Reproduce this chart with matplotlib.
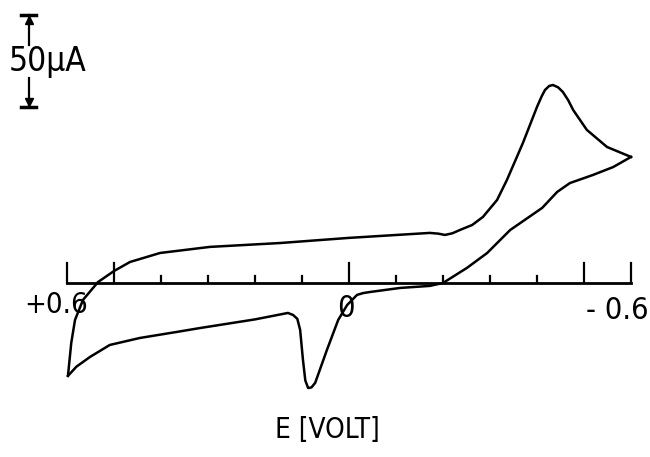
import matplotlib.pyplot as plt

# cyclic voltammogram, potential in V, current in uA
# sweep from +0.6 V towards -0.6 V
fwd_E = [0.598, 0.591, 0.583, 0.566, 0.534, 0.500, 0.466, 0.402, 0.296, 0.147,
         0.000, -0.172, -0.190, -0.204, -0.220, -0.236, -0.262, -0.285, -0.315,
         -0.336, -0.370, -0.400, -0.410, -0.417, -0.426, -0.434, -0.445, -0.455,
         -0.466, -0.477, -0.506, -0.549, -0.600]
fwd_I = [-50.5, -32.6, -20.1, -9.2, 0.5, 6.5, 11.4, 16.3, 19.6, 21.7,
         24.5, 27.2, 26.8, 26.1, 27.0, 28.8, 31.5, 35.9, 45.1,
         56.0, 76.1, 95.7, 101.5, 104.9, 107.1, 107.6, 106.3, 103.8,
         99.5, 94.0, 83.2, 73.9, 68.5]

# return sweep back to +0.6 V
rev_E = [-0.600, -0.562, -0.519, -0.470, -0.443, -0.411, -0.343, -0.294, -0.251,
         -0.200, -0.172, -0.109, -0.045, -0.030, -0.017, 0.004, 0.023, 0.047,
         0.072, 0.080, 0.087, 0.093, 0.098, 0.104, 0.110, 0.119, 0.130, 0.200,
         0.317, 0.366, 0.445, 0.509, 0.551, 0.580, 0.598]
rev_I = [68.5, 63.0, 58.7, 54.3, 49.5, 40.8, 28.8, 16.3, 8.2,
         0.0, -1.6, -2.7, -4.9, -5.5, -6.5, -12.0, -20.1, -36.4,
         -54.3, -56.8, -57.1, -53.0, -41.8, -25.5, -19.5, -17.4, -16.3, -19.8,
         -24.5, -26.6, -29.9, -33.7, -40.2, -45.5, -50.5]

tick_E = [0.6, 0.5, 0.4, 0.3, 0.2, 0.1, 0.0, -0.1, -0.2, -0.3, -0.4, -0.5, -0.6]
major_E = [0.6, 0.5, 0.0, -0.5, -0.6]
scale_uA = 50

plt.rcParams['font.family'] = ['DejaVu Sans']
plt.rcParams['font.stretch'] = 'condensed'

fig = plt.figure(figsize=(6.5, 4.57), dpi=100)
ax = fig.add_axes([0, 0, 1, 1])
ax.set_xlim(0.7426, -0.6404)
ax.set_ylim(-94.6, 153.8)
ax.axis('off')

lw = 1.8
ax.plot(fwd_E, fwd_I, color='black', lw=lw, solid_joinstyle='round')
ax.plot(rev_E, rev_I, color='black', lw=lw, solid_joinstyle='round')

# potential axis with ticks
ax.plot([tick_E[0], tick_E[-1]], [0, 0], color='black', lw=2.0)
for e in tick_E:
    h = 10.9 if e in major_E else 3.8
    ax.plot([e, e], [0, h], color='black', lw=1.6)

ax.text(0.623, -12, '+0.6', fontsize=21, ha='center', va='center')
ax.text(0.006, -14, '0', fontsize=22, ha='center', va='center')
ax.text(-0.57, -15, '- 0.6', fontsize=22, ha='center', va='center')
ax.text(0.045, -80, 'E [VOLT]', fontsize=20, ha='center', va='center')

# current scale bar
sx = 0.681
y0 = 95.7
y1 = y0 + scale_uA
ax.plot([sx, sx], [y0, 111.4], color='black', lw=1.6)
ax.plot([sx, sx], [129.3, y1], color='black', lw=1.6)
for y in (y0, y1):
    ax.plot([0.697, 0.665], [y, y], color='black', lw=2.5)
ax.plot(sx, y1 - 2.5, marker='^', color='black', ms=6)
ax.plot(sx, y0 + 2.5, marker='v', color='black', ms=6)
ax.text(0.724, 120.5, '50\u00b5A', fontsize=24, ha='left', va='center')

fig.savefig('out.png', dpi=100)
